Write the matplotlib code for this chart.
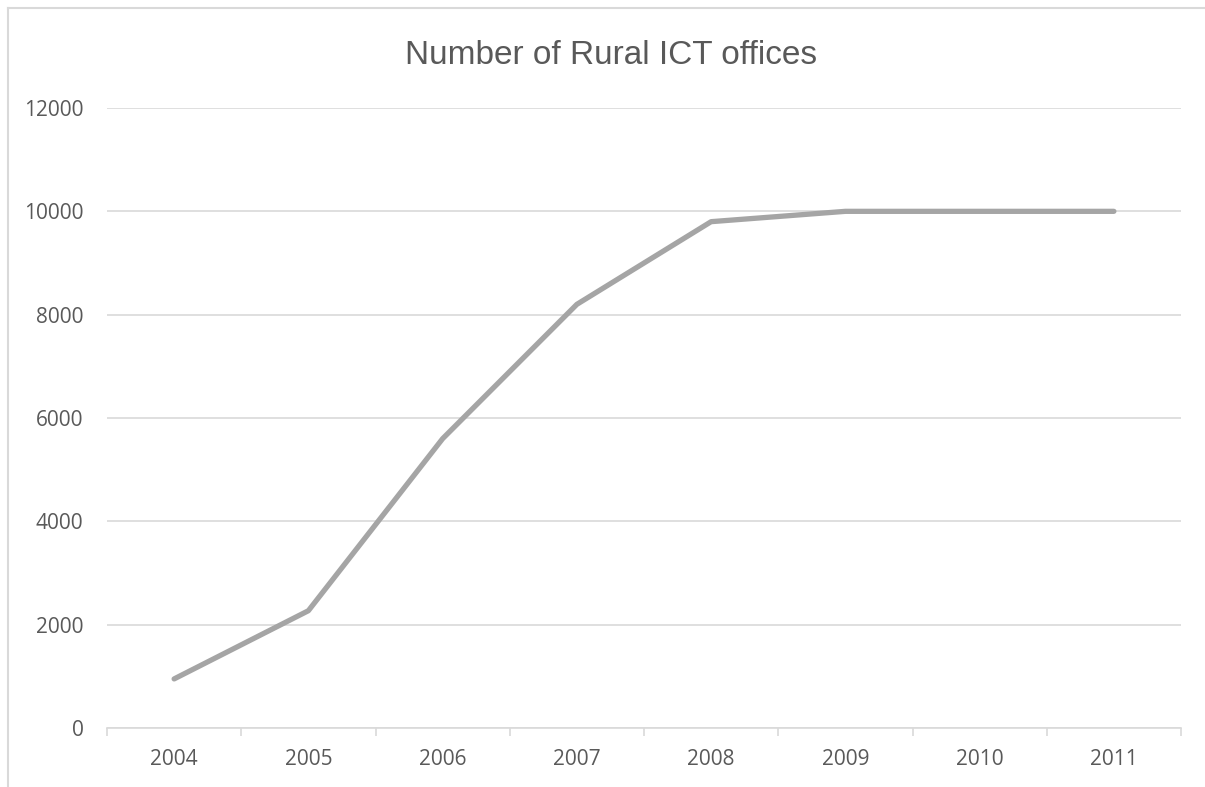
import matplotlib
matplotlib.use("Agg")
import matplotlib.pyplot as plt
from matplotlib.lines import Line2D

years = ["2004", "2005", "2006", "2007", "2008", "2009", "2010", "2011"]
offices = [950, 2270, 5600, 8200, 9800, 10000, 10000, 10000]
yticks = [0, 2000, 4000, 6000, 8000, 10000, 12000]

plt.rcParams['font.family'] = ['Open Sans', 'DejaVu Sans']

fig = plt.figure(figsize=(12.05, 7.87), dpi=100)
ax = fig.add_axes([107 / 1205, 1 - 728 / 787, (1181 - 107) / 1205, (728 - 108) / 787])

x = list(range(len(years)))
ax.plot(x, offices, color='#a5a5a5', linewidth=3.8, solid_capstyle='round', zorder=3)

ax.set_xlim(-0.5, len(years) - 0.5)
ax.set_ylim(0, 12000)
ax.set_yticks(yticks)
ax.set_yticklabels([str(v) for v in yticks])
ax.set_xticks(x)
ax.set_xticklabels(years)
ax.set_xticks([i - 0.5 for i in range(len(years) + 1)], minor=True)

ax.grid(axis='y', color='#d9d9d9', linewidth=1.2)
ax.set_axisbelow(True)
for s in ['top', 'right', 'left']:
    ax.spines[s].set_visible(False)
ax.spines['bottom'].set_color('#d9d9d9')
ax.spines['bottom'].set_linewidth(1.2)

ax.tick_params(axis='x', which='major', length=0, pad=15, labelsize=15, labelcolor='#595959')
ax.tick_params(axis='x', which='minor', length=6, width=1.2, color='#d9d9d9')
ax.tick_params(axis='y', length=0, pad=17, labelsize=15, labelcolor='#595959')

fig.text(0.507, 1 - 56 / 787, "Number of Rural ICT offices", ha='center', va='center',
         fontsize=24, color='#595959', family=['Liberation Sans', 'DejaVu Sans'])

# chart area border: only top and left edges are inside the picture
bx, by = 8 / 1205, 1 - 8 / 787
fig.add_artist(Line2D([bx, 1.0], [by, by], transform=fig.transFigure, color='#d9d9d9', linewidth=1.5))
fig.add_artist(Line2D([bx, bx], [0.0, by], transform=fig.transFigure, color='#d9d9d9', linewidth=1.5))

fig.savefig("out.png", dpi=100)
